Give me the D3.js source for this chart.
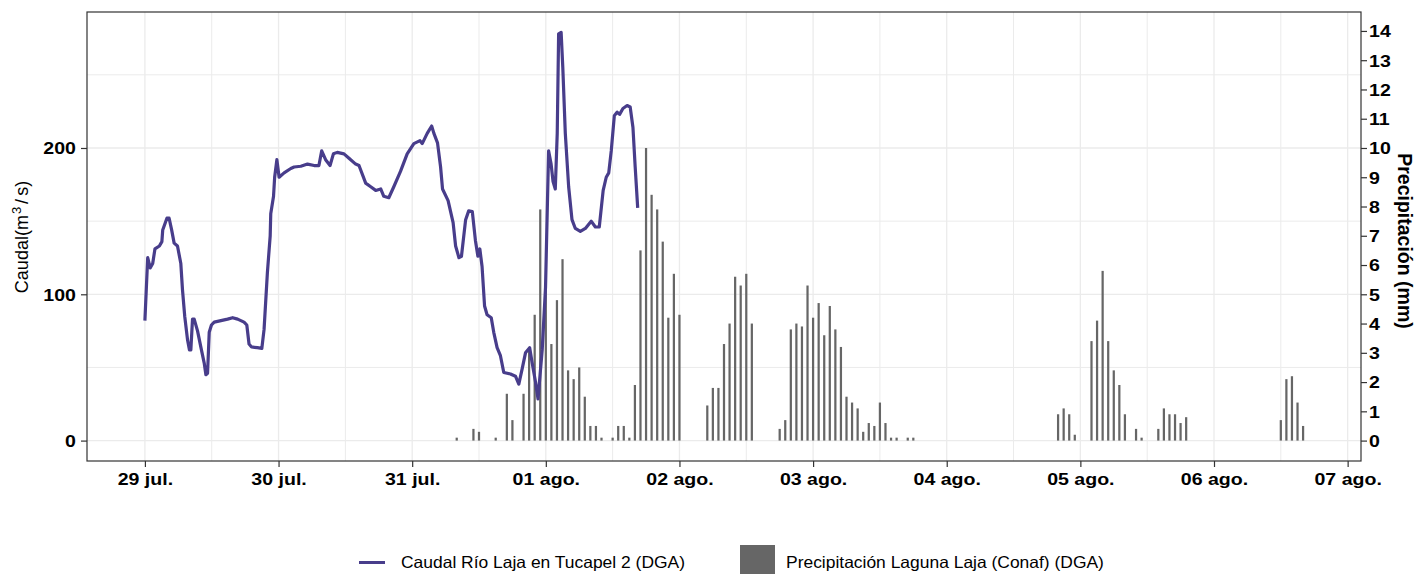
<!DOCTYPE html>
<html>
<head>
<meta charset="utf-8">
<script src="https://cdn.jsdelivr.net/npm/d3@7"></script>
<style>
  body { margin: 0; background: #fff; }
  svg { display: block; font-family: "Liberation Sans", Arial, sans-serif; }
</style>
</head>
<body>
<div id="chart"></div>
<script>
// caudal (m3/s), horas desde el 29 jul. 00:00
const flowHours = [
  0, 0.5, 0.95, 1.4, 1.8, 2.6, 3.05, 3.2, 3.95, 4.35,
  4.8, 5.25, 5.85, 6.45, 6.75, 7.15, 7.65, 8.0, 8.25, 8.55,
  8.85, 9.45, 10.15, 10.65, 10.95, 11.25, 11.55, 11.95, 12.45, 13.65,
  14.85, 15.75, 16.65, 17.8, 18.3, 18.7, 19.15, 20.2, 21.0, 21.4,
  22.0, 22.5, 22.6, 23.1, 23.3, 23.7, 24.1, 25.0, 26.2, 26.8,
  28.0, 29.2, 30.4, 31.25, 31.75, 32.45, 33.25, 33.85, 34.55, 35.75,
  36.65, 37.85, 38.45, 39.65, 40.55, 41.45, 42.35, 42.9, 43.8, 44.7,
  45.9, 47.1, 48.3, 49.4, 49.8, 50.7, 51.5, 51.9, 52.55, 53.1,
  53.45, 54.45, 55.35, 55.8, 56.4, 56.85, 57.6, 58.15, 58.8, 59.35,
  59.8, 60.15, 60.55, 61.0, 61.45, 62.2, 62.65, 63.25, 63.85, 64.45,
  65.65, 66.55, 67.15, 67.75, 68.35, 69.1, 69.55, 70.15, 70.6, 71.35,
  71.95, 72.5, 72.95, 73.3, 73.7, 74.05, 74.3, 74.75, 75.05, 75.5,
  76.1, 76.7, 77.3, 78.2, 79.1, 80.15, 80.9, 81.6, 82.3, 82.85,
  83.3, 83.75, 84.3, 84.8, 85.25, 85.85, 86.6, 87.15, 87.65, 88.05,
  88.5
];
const flowValues = [
  82, 125, 118, 121, 131, 133, 136, 144, 152, 152,
  144, 135, 133, 121, 103, 85, 69, 62, 62, 83,
  83, 75, 62, 53, 45, 46, 74, 79, 81, 82,
  83, 84, 83, 81, 79, 66, 64, 63.5, 63, 76,
  115, 140, 155, 167, 180, 192, 180, 183, 186, 187,
  187.5, 189, 188, 188, 198, 192, 188, 196, 197, 196,
  193, 189, 188, 176, 173.5, 171, 172, 167, 166, 173.5,
  184, 196, 203, 205, 203, 210, 215, 210, 203.5, 187,
  172, 164, 149, 133, 125, 126, 151, 157, 156.5, 137,
  126, 131, 119, 92, 86, 84, 74, 63.5, 58, 46.5,
  45.5, 44, 38.6, 49, 60, 63.5, 53, 40, 28.5, 62,
  105, 198, 189, 177, 172, 210, 278, 279, 255, 210,
  173.5, 151, 145, 143, 145, 150, 146, 146, 171, 180,
  183, 198, 222, 224.5, 223, 227, 229, 228, 214, 187,
  159
];

// precipitacion horaria (mm)
const precipHours = [
  56, 59, 60, 63, 65, 66, 68, 69, 70, 71, 72, 73, 74, 75, 76, 77, 78, 79, 80, 81, 82,
  84, 85, 86, 87, 88, 89, 90, 91, 92, 93, 94, 95, 96,
  101, 102, 103, 104, 105, 106, 107, 108, 109,
  114, 115, 116, 117, 118, 119, 120, 121, 122, 123, 124, 125, 126, 127, 128, 129, 130, 131, 132, 133, 134, 135, 137, 138,
  164, 165, 166, 167, 170, 171, 172, 173, 174, 175, 176, 178, 179,
  182, 183, 184, 185, 186, 187,
  204, 205, 206, 207, 208
];
const precipValues = [
  0.1, 0.4, 0.3, 0.1, 1.6, 0.7, 1.6, 3.2, 4.3, 7.9, 5.4, 3.3, 4.8, 6.2, 2.4, 2.1, 2.5, 1.5, 0.5, 0.5, 0.1,
  0.1, 0.5, 0.5, 0.1, 1.9, 6.5, 10.0, 8.4, 7.9, 6.8, 4.2, 5.7, 4.3,
  1.2, 1.8, 1.8, 3.3, 4.0, 5.6, 5.3, 5.7, 4.0,
  0.4, 0.7, 3.8, 4.0, 3.9, 5.3, 4.2, 4.7, 3.6, 4.6, 3.8, 3.2, 1.5, 1.3, 1.1, 0.3, 0.6, 0.5, 1.3, 0.6, 0.1, 0.1, 0.1, 0.1,
  0.9, 1.1, 0.9, 0.2, 3.4, 4.1, 5.8, 3.4, 2.4, 1.9, 0.9, 0.4, 0.1,
  0.4, 1.1, 0.9, 0.9, 0.6, 0.8,
  0.7, 2.1, 2.2, 1.3, 0.5
];

const leftTicks = [0, 100, 200];
const rightTicks = d3.range(0, 15);
const legendLabels = ["Caudal Río Laja en Tucapel 2 (DGA)", "Precipitación Laguna Laja (Conaf) (DGA)"];
const shortMonthsEs = ["ene.", "feb.", "mar.", "abr.", "may.", "jun.", "jul.", "ago.", "sept.", "oct.", "nov.", "dic."];

const start = new Date(2023, 6, 29);
const hourToDate = h => new Date(start.getTime() + h * 3600e3);
const ratio = 20; // eje secundario = caudal / 20

const flow = flowHours.map((h, i) => ({ t: hourToDate(h), v: flowValues[i] }));
const precip = precipHours.map((h, i) => ({ h: h, t: hourToDate(h), v: precipValues[i] }));

const W = 1418, H = 574;
const panel = { left: 87, right: 1361, top: 12, bottom: 461 };

const es = d3.timeFormatLocale({
  dateTime: "%x, %X", date: "%d/%m/%Y", time: "%H:%M:%S", periods: ["AM", "PM"],
  days: ["domingo", "lunes", "martes", "miércoles", "jueves", "viernes", "sábado"],
  shortDays: ["dom", "lun", "mar", "mié", "jue", "vie", "sáb"],
  months: ["enero", "febrero", "marzo", "abril", "mayo", "junio", "julio", "agosto", "septiembre", "octubre", "noviembre", "diciembre"],
  shortMonths: shortMonthsEs
});
const fmt = es.format("%d %b");

// escalas con expansion de 5% como ggplot
const hMin = d3.min(flowHours), hMax = d3.max(precipHours);
const padH = (hMax - hMin) * 0.05;
const x = d3.scaleTime()
  .domain([hourToDate(hMin - padH), hourToDate(hMax + padH)])
  .range([panel.left, panel.right]);

const yMax = d3.max(flowValues);
const padY = yMax * 0.05;
const y = d3.scaleLinear()
  .domain([-padY, yMax + padY])
  .range([panel.bottom, panel.top]);
const y2 = d3.scaleLinear()
  .domain([-padY / ratio, (yMax + padY) / ratio])
  .range([panel.bottom, panel.top]);

const svg = d3.select("#chart").append("svg")
  .attr("width", W)
  .attr("height", H);

// grilla
const grid = svg.append("g");
const days = d3.timeDay.range(d3.timeDay.ceil(x.domain()[0]), x.domain()[1]);
const halfDays = d3.timeHour.range(x.domain()[0], x.domain()[1]).filter(d => d.getHours() == 12);
const minorY = [50, 150, 250];

grid.selectAll(".vminor").data(halfDays).enter().append("line")
  .attr("x1", d => x(d)).attr("x2", d => x(d))
  .attr("y1", panel.top).attr("y2", panel.bottom)
  .attr("stroke", "#ebebeb").attr("stroke-width", 1);
grid.selectAll(".hminor").data(minorY).enter().append("line")
  .attr("x1", panel.left).attr("x2", panel.right)
  .attr("y1", d => y(d)).attr("y2", d => y(d))
  .attr("stroke", "#ebebeb").attr("stroke-width", 1);
grid.selectAll(".vmajor").data(days).enter().append("line")
  .attr("x1", d => x(d)).attr("x2", d => x(d))
  .attr("y1", panel.top).attr("y2", panel.bottom)
  .attr("stroke", "#ebebeb").attr("stroke-width", 1.3);
grid.selectAll(".hmajor").data(leftTicks).enter().append("line")
  .attr("x1", panel.left).attr("x2", panel.right)
  .attr("y1", d => y(d)).attr("y2", d => y(d))
  .attr("stroke", "#ebebeb").attr("stroke-width", 1.3);

// barras de precipitacion
svg.append("g")
  .selectAll("rect")
  .data(precip)
  .enter().append("rect")
    .attr("x", d => x(hourToDate(d.h - 0.2)))
    .attr("width", d => x(hourToDate(d.h + 0.2)) - x(hourToDate(d.h - 0.2)))
    .attr("y", d => y2(d.v))
    .attr("height", d => y2(0) - y2(d.v))
    .attr("fill", "#666666");

// linea de caudal
const line = d3.line().x(d => x(d.t)).y(d => y(d.v));
svg.append("path")
  .datum(flow)
  .attr("d", line)
  .attr("fill", "none")
  .attr("stroke", "#483D8B")
  .attr("stroke-width", 3.2)
  .attr("stroke-linejoin", "round");

// borde del panel
svg.append("rect")
  .attr("x", panel.left).attr("y", panel.top)
  .attr("width", panel.right - panel.left)
  .attr("height", panel.bottom - panel.top)
  .attr("fill", "none")
  .attr("stroke", "#333333")
  .attr("stroke-width", 1.2);

function styleAxis(g) {
  g.select(".domain").remove();
  g.selectAll(".tick line").attr("stroke", "#333333").attr("stroke-width", 1.2);
  g.selectAll(".tick text")
    .attr("fill", "#000")
    .style("font-size", "16.3px")
    .style("font-weight", "bold");
}

// eje x
const gx = svg.append("g")
  .attr("transform", `translate(0,${panel.bottom})`)
  .call(d3.axisBottom(x).tickValues(days).tickFormat(fmt).tickSize(6))
  .call(styleAxis);
gx.selectAll(".tick text")
  .attr("y", 24).attr("dy", null)
  .attr("transform", "scale(1.2,1)");

// eje y izquierdo
const gy = svg.append("g")
  .attr("transform", `translate(${panel.left},0)`)
  .call(d3.axisLeft(y).tickValues(leftTicks).tickSize(6))
  .call(styleAxis);
gy.selectAll(".tick text")
  .attr("x", null).attr("dy", "0.36em")
  .attr("transform", "translate(-11,0) scale(1.2,1)");

// eje y derecho
const gy2 = svg.append("g")
  .attr("transform", `translate(${panel.right},0)`)
  .call(d3.axisRight(y2).tickValues(rightTicks).tickSize(6))
  .call(styleAxis);
gy2.selectAll(".tick text")
  .attr("x", null).attr("dy", "0.36em")
  .attr("transform", "translate(8,0) scale(1.2,1)");

// titulos de ejes
const tLeft = svg.append("text")
  .attr("transform", "translate(28,237) rotate(-90)")
  .attr("text-anchor", "middle")
  .style("font-size", "18px")
  .attr("fill", "#000");
tLeft.append("tspan").text("Caudal(m");
tLeft.append("tspan").attr("dx", 1).attr("dy", -7).style("font-size", "13px").text("3");
tLeft.append("tspan").attr("dx", 3).attr("dy", 7).text("/");
tLeft.append("tspan").attr("dx", 3).text("s)");

svg.append("text")
  .attr("transform", "translate(1398,241) rotate(90)")
  .attr("text-anchor", "middle")
  .style("font-size", "19.5px")
  .style("font-weight", "bold")
  .attr("fill", "#000")
  .text("Precipitación (mm)");

// leyenda
const legend = svg.append("g");
legend.append("line")
  .attr("x1", 359).attr("x2", 385)
  .attr("y1", 562.5).attr("y2", 562.5)
  .attr("stroke", "#483D8B").attr("stroke-width", 3);
legend.append("text")
  .attr("transform", "translate(401,568.3) scale(1.07,1)")
  .style("font-size", "16.3px")
  .attr("fill", "#000")
  .text(legendLabels[0]);
legend.append("rect")
  .attr("x", 740).attr("y", 545)
  .attr("width", 35).attr("height", 35)
  .attr("fill", "#666666");
legend.append("text")
  .attr("transform", "translate(786,568.3) scale(1.07,1)")
  .style("font-size", "16.3px")
  .attr("fill", "#000")
  .text(legendLabels[1]);
</script>
</body>
</html>
